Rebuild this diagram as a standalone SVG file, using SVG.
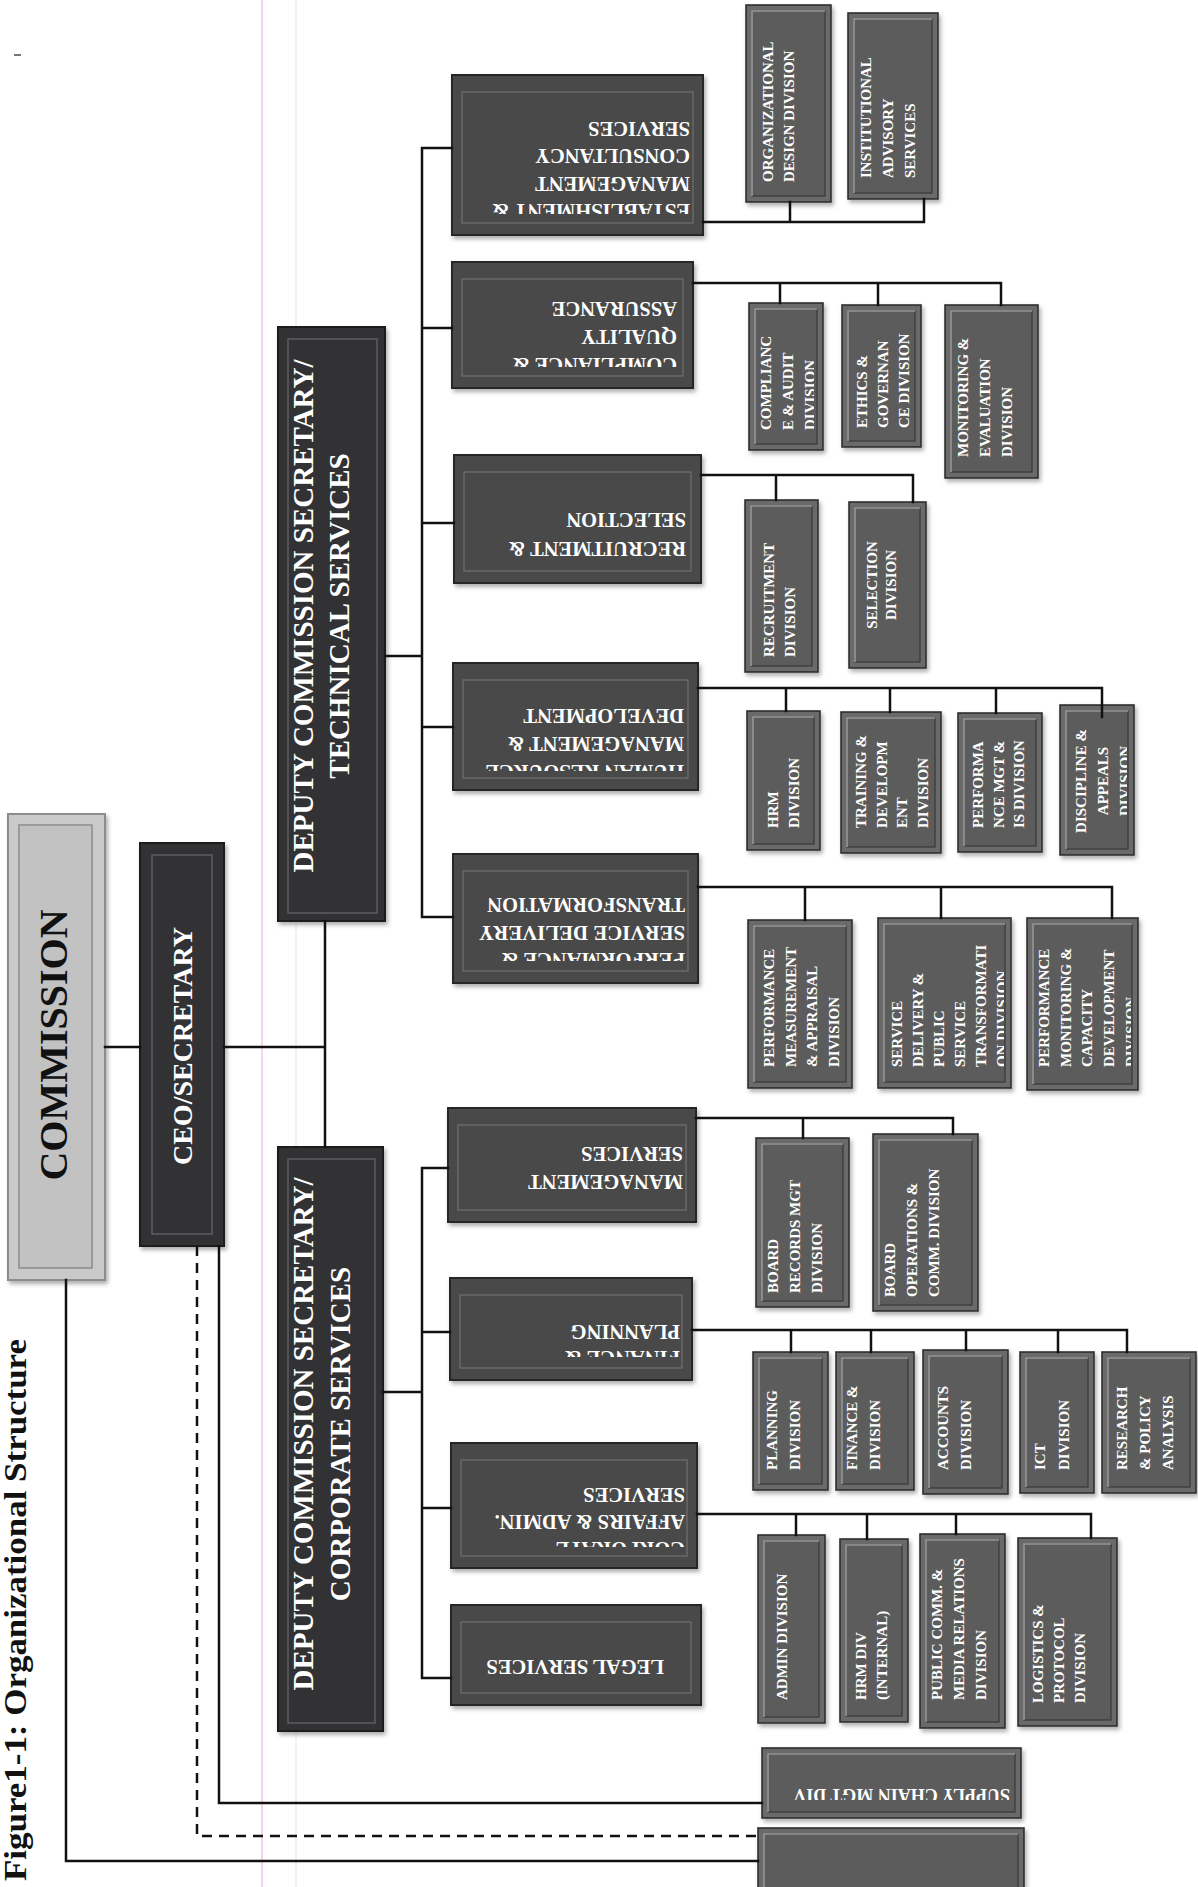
<svg xmlns="http://www.w3.org/2000/svg" width="1198" height="1887" viewBox="0 0 1198 1887">
<style>
.ln{fill:none;stroke:#111;stroke-width:2.5;stroke-linecap:square}
.dash{stroke-dasharray:10 7;stroke-linecap:butt}
.do{fill:#6b6b6b;stroke:#2e2e2e;stroke-width:1.6}
.di{fill:#5c5c5c;stroke:#383838;stroke-width:1.2}
.hl{fill:none;stroke:#9c9c9c;stroke-width:1.6}
.po{fill:#4a4a4a;stroke:#282828;stroke-width:2}
.pi{fill:none;stroke:#707070;stroke-width:1.2}
.ko{fill:#323236;stroke:#1a1a1a;stroke-width:2}
.ki{fill:none;stroke:#5e5e62;stroke-width:1.5}
.co{fill:#c9c9c9;stroke:#8c8c8c;stroke-width:2}
.ci{fill:#c2c2c2;stroke:#8a8a8a;stroke-width:1.5}
.t{font-family:"Liberation Serif","Times New Roman",serif;font-weight:bold;fill:#fff}
.dt{font-size:15px}
.pt{font-size:20.5px}
.kt{font-size:29px}
.sd{filter:url(#shadow)}
</style>
<defs>
<filter id="shadow" x="-10%" y="-10%" width="130%" height="130%">
<feDropShadow dx="2" dy="3" stdDeviation="2" flood-color="#8a8a8a" flood-opacity="0.7"/>
</filter>
<clipPath id="cP1"><rect x="462" y="90" width="231" height="124"/></clipPath>
<clipPath id="cP2"><rect x="462" y="278" width="221" height="89"/></clipPath>
<clipPath id="cP4"><rect x="463" y="679" width="225" height="92"/></clipPath>
<clipPath id="cP5"><rect x="463" y="870" width="225" height="91"/></clipPath>
<clipPath id="cP7"><rect x="460" y="1294" width="222" height="63"/></clipPath>
<clipPath id="cP8"><rect x="461" y="1459" width="226" height="88"/></clipPath>
<clipPath id="cD3"><rect x="755" y="309" width="59" height="135"/></clipPath>
<clipPath id="cD11"><rect x="1066" y="711" width="61" height="138"/></clipPath>
<clipPath id="cD13"><rect x="884" y="924" width="120" height="158"/></clipPath>
<clipPath id="cD14"><rect x="1033" y="924" width="98" height="160"/></clipPath>
<clipPath id="cS"><rect x="768" y="1754" width="247" height="46"/></clipPath>
</defs>
<rect x="0" y="0" width="1198" height="1887" fill="#ffffff"/>
<line x1="262" y1="0" x2="262" y2="1887" stroke="#e9c8e6" stroke-width="1.5"/>
<line x1="296" y1="0" x2="296" y2="1887" stroke="#d3e9ef" stroke-width="1"/>
<line x1="14" y1="55" x2="21" y2="55" stroke="#777" stroke-width="2"/>
<text transform="translate(26,1881) rotate(-90)" font-family="Liberation Serif,serif" font-weight="bold" font-size="32" fill="#111" textLength="542" lengthAdjust="spacingAndGlyphs">Figure1-1: Organizational Structure</text>

<g id="commission">
<rect class="co sd" x="8" y="814" width="97" height="466"/>
<rect class="ci" x="19" y="825" width="73" height="443"/>
<path class="hl" d="M19 1268 V825 H92" stroke="#eeeeee"/>
<text class="t" transform="translate(67,1045) rotate(-90)" text-anchor="middle" font-size="40" style="fill:#111">COMMISSION</text>
</g>
<g id="ceo">
<rect class="ko sd" x="140" y="843" width="84" height="403"/>
<rect class="ki" x="152" y="855" width="60" height="379"/>
<text class="t" transform="translate(192,1046) rotate(-90)" text-anchor="middle" font-size="28">CEO/SECRETARY</text>
</g>
<g id="dcs-technical">
<rect class="ko sd" x="278" y="327" width="107" height="594"/>
<rect class="ki" x="288" y="339" width="89" height="574"/>
<text class="t kt" transform="translate(313,616) rotate(-90)" text-anchor="middle"><tspan x="0" y="0">DEPUTY COMMISSION SECRETARY/</tspan><tspan x="0" dy="36">TECHNICAL SERVICES</tspan></text>
</g>
<g id="dcs-corporate">
<rect class="ko sd" x="278" y="1147" width="105" height="584"/>
<rect class="ki" x="288" y="1159" width="87" height="564"/>
<text class="t kt" transform="translate(313,1434) rotate(-90)" text-anchor="middle"><tspan x="0" y="0">DEPUTY COMMISSION SECRETARY/</tspan><tspan x="0" dy="37">CORPORATE SERVICES</tspan></text>
</g>

<g id="establishment">
<rect class="po sd" x="452" y="75" width="251" height="160"/>
<rect class="pi" x="462" y="92" width="231" height="131"/>
<g clip-path="url(#cP1)"><text class="t pt" transform="translate(690,204) rotate(180)"><tspan x="0" y="0">ESTABLISHMENT &amp;</tspan><tspan x="0" dy="27.5">MANAGEMENT</tspan><tspan x="0" dy="27.5">CONSULTANCY</tspan><tspan x="0" dy="27.5">SERVICES</tspan></text></g>
</g>
<g id="quality-assurance">
<rect class="po sd" x="452" y="262" width="241" height="126"/>
<rect class="pi" x="462" y="279" width="221" height="97"/>
<g clip-path="url(#cP2)"><text class="t pt" transform="translate(677,358) rotate(180)"><tspan x="0" y="0">COMPLIANCE &amp;</tspan><tspan x="0" dy="28">QUALITY</tspan><tspan x="0" dy="28">ASSURANCE</tspan></text></g>
</g>
<g id="recruitment-selection">
<rect class="po sd" x="454" y="455" width="247" height="128"/>
<rect class="pi" x="464" y="472" width="227" height="99"/>
<text class="t pt" transform="translate(686,542) rotate(180)"><tspan x="0" y="0">RECRUITMENT &amp;</tspan><tspan x="0" dy="29">SELECTION</tspan></text>
</g>
<g id="hr-management">
<rect class="po sd" x="453" y="663" width="245" height="127"/>
<rect class="pi" x="463" y="680" width="225" height="98"/>
<g clip-path="url(#cP4)"><text class="t pt" transform="translate(684,765) rotate(180)"><tspan x="0" y="0">HUMAN RESOURCE</tspan><tspan x="0" dy="28">MANAGEMENT &amp;</tspan><tspan x="0" dy="28">DEVELOPMENT</tspan></text></g>
</g>
<g id="performance-service-delivery">
<rect class="po sd" x="453" y="854" width="245" height="129"/>
<rect class="pi" x="463" y="871" width="225" height="100"/>
<g clip-path="url(#cP5)"><text class="t pt" transform="translate(685,953) rotate(180)"><tspan x="0" y="0">PERFORMANCE &amp;</tspan><tspan x="0" dy="27.5" textLength="206" lengthAdjust="spacingAndGlyphs">SERVICE DELIVERY</tspan><tspan x="0" dy="27.5">TRANSFORMATION</tspan></text></g>
</g>
<g id="management-services">
<rect class="po sd" x="448" y="1108" width="248" height="114"/>
<rect class="pi" x="458" y="1125" width="228" height="85"/>
<text class="t pt" transform="translate(683,1175) rotate(180)"><tspan x="0" y="0">MANAGEMENT</tspan><tspan x="0" dy="28">SERVICES</tspan></text>
</g>
<g id="finance-planning">
<rect class="po sd" x="450" y="1278" width="242" height="102"/>
<rect class="pi" x="460" y="1295" width="222" height="73"/>
<g clip-path="url(#cP7)"><text class="t pt" transform="translate(680,1351) rotate(180)"><tspan x="0" y="0">FINANCE &amp;</tspan><tspan x="0" dy="26">PLANNING</tspan></text></g>
</g>
<g id="corporate-affairs">
<rect class="po sd" x="451" y="1443" width="246" height="125"/>
<rect class="pi" x="461" y="1460" width="226" height="96"/>
<g clip-path="url(#cP8)"><text class="t pt" transform="translate(685,1542) rotate(180)"><tspan x="0" y="0">CORPORATE</tspan><tspan x="0" dy="27">AFFAIRS &amp; ADMIN.</tspan><tspan x="0" dy="27">SERVICES</tspan></text></g>
</g>
<g id="legal-services">
<rect class="po sd" x="451" y="1605" width="250" height="100"/>
<rect class="pi" x="461" y="1622" width="230" height="71"/>
<text class="t pt" transform="translate(664,1660) rotate(180)">LEGAL SERVICES</text>
</g>

<g id="org-design-div">
<rect class="do sd" x="746" y="5" width="85" height="197"/><rect class="di" x="752" y="11" width="73" height="185"/><path class="hl" d="M752 196 V11 H825"/>
<text class="t dt" transform="translate(773,182) rotate(-90)"><tspan x="0" y="0">ORGANIZATIONAL</tspan><tspan x="0" dy="21">DESIGN DIVISION</tspan></text>
</g>
<g id="institutional-advisory">
<rect class="do sd" x="848" y="13" width="90" height="186"/><rect class="di" x="854" y="19" width="78" height="174"/><path class="hl" d="M854 193 V19 H932"/>
<text class="t dt" transform="translate(871,178) rotate(-90)"><tspan x="0" y="0">INSTITUTIONAL</tspan><tspan x="0" dy="22">ADVISORY</tspan><tspan x="0" dy="22">SERVICES</tspan></text>
</g>
<g id="compliance-audit">
<rect class="do sd" x="749" y="303" width="74" height="147"/><rect class="di" x="755" y="309" width="62" height="135"/><path class="hl" d="M755 444 V309 H817"/>
<g clip-path="url(#cD3)"><text class="t dt" transform="translate(771,430) rotate(-90)"><tspan x="0" y="0">COMPLIANC</tspan><tspan x="0" dy="22">E &amp; AUDIT</tspan><tspan x="0" dy="22">DIVISION</tspan></text></g>
</g>
<g id="ethics-governance">
<rect class="do sd" x="842" y="305" width="79" height="142"/><rect class="di" x="848" y="311" width="67" height="130"/><path class="hl" d="M848 441 V311 H915"/>
<text class="t dt" transform="translate(867,428) rotate(-90)"><tspan x="0" y="0">ETHICS &amp;</tspan><tspan x="0" dy="21">GOVERNAN</tspan><tspan x="0" dy="21">CE DIVISION</tspan></text>
</g>
<g id="monitoring-evaluation">
<rect class="do sd" x="945" y="305" width="93" height="173"/><rect class="di" x="951" y="311" width="81" height="161"/><path class="hl" d="M951 472 V311 H1032"/>
<text class="t dt" transform="translate(968,457) rotate(-90)"><tspan x="0" y="0">MONITORING &amp;</tspan><tspan x="0" dy="22">EVALUATION</tspan><tspan x="0" dy="22">DIVISION</tspan></text>
</g>
<g id="recruitment-div">
<rect class="do sd" x="745" y="500" width="73" height="172"/><rect class="di" x="751" y="506" width="61" height="160"/><path class="hl" d="M751 666 V506 H812"/>
<text class="t dt" transform="translate(774,657) rotate(-90)"><tspan x="0" y="0">RECRUITMENT</tspan><tspan x="0" dy="21">DIVISION</tspan></text>
</g>
<g id="selection-div">
<rect class="do sd" x="849" y="502" width="77" height="166"/><rect class="di" x="855" y="508" width="65" height="154"/><path class="hl" d="M855 662 V508 H920"/>
<text class="t dt" transform="translate(877,585) rotate(-90)" text-anchor="middle"><tspan x="0" y="0">SELECTION</tspan><tspan x="0" dy="19">DIVISION</tspan></text>
</g>
<g id="hrm-div">
<rect class="do sd" x="747" y="711" width="73" height="139"/><rect class="di" x="753" y="717" width="61" height="127"/><path class="hl" d="M753 844 V717 H814"/>
<text class="t dt" transform="translate(778,828) rotate(-90)"><tspan x="0" y="0">HRM</tspan><tspan x="0" dy="21">DIVISION</tspan></text>
</g>
<g id="training-development">
<rect class="do sd" x="841" y="712" width="100" height="141"/><rect class="di" x="847" y="718" width="88" height="129"/><path class="hl" d="M847 847 V718 H935"/>
<text class="t dt" transform="translate(866,828) rotate(-90)"><tspan x="0" y="0">TRAINING &amp;</tspan><tspan x="0" dy="20.5">DEVELOPM</tspan><tspan x="0" dy="20.5">ENT</tspan><tspan x="0" dy="20.5">DIVISION</tspan></text>
</g>
<g id="performance-mgt-is">
<rect class="do sd" x="958" y="713" width="84" height="139"/><rect class="di" x="964" y="719" width="72" height="127"/><path class="hl" d="M964 846 V719 H1036"/>
<text class="t dt" transform="translate(983,828) rotate(-90)"><tspan x="0" y="0">PERFORMA</tspan><tspan x="0" dy="20.5">NCE MGT &amp;</tspan><tspan x="0" dy="20.5">IS DIVISION</tspan></text>
</g>
<g id="discipline-appeals">
<rect class="do sd" x="1060" y="705" width="74" height="150"/><rect class="di" x="1066" y="711" width="62" height="138"/><path class="hl" d="M1066 849 V711 H1128"/>
<g clip-path="url(#cD11)"><text class="t dt" transform="translate(1086,781) rotate(-90)" text-anchor="middle"><tspan x="0" y="0">DISCIPLINE &amp;</tspan><tspan x="0" dy="22">APPEALS</tspan><tspan x="0" dy="22">DIVISION</tspan></text></g>
</g>
<g id="performance-measurement">
<rect class="do sd" x="748" y="920" width="104" height="168"/><rect class="di" x="754" y="926" width="92" height="156"/><path class="hl" d="M754 1082 V926 H846"/>
<text class="t dt" transform="translate(774,1067) rotate(-90)"><tspan x="0" y="0">PERFORMANCE</tspan><tspan x="0" dy="21.5">MEASUREMENT</tspan><tspan x="0" dy="21.5">&amp; APPRAISAL</tspan><tspan x="0" dy="21.5">DIVISION</tspan></text>
</g>
<g id="service-delivery-transformation">
<rect class="do sd" x="878" y="918" width="133" height="170"/><rect class="di" x="884" y="924" width="121" height="158"/><path class="hl" d="M884 1082 V924 H1005"/>
<g clip-path="url(#cD13)"><text class="t dt" transform="translate(902,1067) rotate(-90)"><tspan x="0" y="0">SERVICE</tspan><tspan x="0" dy="21">DELIVERY &amp;</tspan><tspan x="0" dy="21">PUBLIC</tspan><tspan x="0" dy="21">SERVICE</tspan><tspan x="0" dy="21">TRANSFORMATI</tspan><tspan x="0" dy="21">ON DIVISION</tspan></text></g>
</g>
<g id="performance-monitoring-capacity">
<rect class="do sd" x="1027" y="918" width="111" height="172"/><rect class="di" x="1033" y="924" width="99" height="160"/><path class="hl" d="M1033 1084 V924 H1132"/>
<g clip-path="url(#cD14)"><text class="t dt" transform="translate(1049,1067) rotate(-90)"><tspan x="0" y="0">PERFORMANCE</tspan><tspan x="0" dy="21.7">MONITORING &amp;</tspan><tspan x="0" dy="21.7">CAPACITY</tspan><tspan x="0" dy="21.7">DEVELOPMENT</tspan><tspan x="0" dy="21.7">DIVISION</tspan></text></g>
</g>
<g id="board-records">
<rect class="do sd" x="756" y="1138" width="93" height="169"/><rect class="di" x="762" y="1144" width="81" height="157"/><path class="hl" d="M762 1301 V1144 H843"/>
<text class="t dt" transform="translate(778,1293) rotate(-90)"><tspan x="0" y="0">BOARD</tspan><tspan x="0" dy="22">RECORDS MGT</tspan><tspan x="0" dy="22">DIVISION</tspan></text>
</g>
<g id="board-operations">
<rect class="do sd" x="873" y="1134" width="105" height="177"/><rect class="di" x="879" y="1140" width="93" height="165"/><path class="hl" d="M879 1305 V1140 H972"/>
<text class="t dt" transform="translate(895,1297) rotate(-90)"><tspan x="0" y="0">BOARD</tspan><tspan x="0" dy="22">OPERATIONS &amp;</tspan><tspan x="0" dy="22">COMM. DIVISION</tspan></text>
</g>
<g id="planning-div">
<rect class="do sd" x="753" y="1352" width="75" height="138"/><rect class="di" x="759" y="1358" width="63" height="126"/><path class="hl" d="M759 1484 V1358 H822"/>
<text class="t dt" transform="translate(777,1470) rotate(-90)"><tspan x="0" y="0">PLANNING</tspan><tspan x="0" dy="23">DIVISION</tspan></text>
</g>
<g id="finance-div">
<rect class="do sd" x="836" y="1352" width="78" height="138"/><rect class="di" x="842" y="1358" width="66" height="126"/><path class="hl" d="M842 1484 V1358 H908"/>
<text class="t dt" transform="translate(857,1470) rotate(-90)"><tspan x="0" y="0">FINANCE &amp;</tspan><tspan x="0" dy="23">DIVISION</tspan></text>
</g>
<g id="accounts-div">
<rect class="do sd" x="923" y="1350" width="85" height="144"/><rect class="di" x="929" y="1356" width="73" height="132"/><path class="hl" d="M929 1488 V1356 H1002"/>
<text class="t dt" transform="translate(948,1470) rotate(-90)"><tspan x="0" y="0">ACCOUNTS</tspan><tspan x="0" dy="23">DIVISION</tspan></text>
</g>
<g id="ict-div">
<rect class="do sd" x="1020" y="1352" width="74" height="141"/><rect class="di" x="1026" y="1358" width="62" height="129"/><path class="hl" d="M1026 1487 V1358 H1088"/>
<text class="t dt" transform="translate(1045,1470) rotate(-90)"><tspan x="0" y="0">ICT</tspan><tspan x="0" dy="24">DIVISION</tspan></text>
</g>
<g id="research-policy">
<rect class="do sd" x="1102" y="1352" width="94" height="141"/><rect class="di" x="1108" y="1358" width="82" height="129"/><path class="hl" d="M1108 1487 V1358 H1190"/>
<text class="t dt" transform="translate(1127,1470) rotate(-90)"><tspan x="0" y="0">RESEARCH</tspan><tspan x="0" dy="23">&amp; POLICY</tspan><tspan x="0" dy="23">ANALYSIS</tspan></text>
</g>
<g id="admin-div">
<rect class="do sd" x="758" y="1535" width="67" height="188"/><rect class="di" x="764" y="1541" width="55" height="176"/><path class="hl" d="M764 1717 V1541 H819"/>
<text class="t dt" transform="translate(787,1700) rotate(-90)">ADMIN DIVISION</text>
</g>
<g id="hrm-internal">
<rect class="do sd" x="840" y="1539" width="68" height="183"/><rect class="di" x="846" y="1545" width="56" height="171"/><path class="hl" d="M846 1716 V1545 H902"/>
<text class="t dt" transform="translate(866,1700) rotate(-90)"><tspan x="0" y="0">HRM DIV</tspan><tspan x="0" dy="21">(INTERNAL)</tspan></text>
</g>
<g id="public-comm">
<rect class="do sd" x="920" y="1534" width="85" height="194"/><rect class="di" x="926" y="1540" width="73" height="182"/><path class="hl" d="M926 1722 V1540 H999"/>
<text class="t dt" transform="translate(942,1700) rotate(-90)"><tspan x="0" y="0">PUBLIC COMM. &amp;</tspan><tspan x="0" dy="22">MEDIA RELATIONS</tspan><tspan x="0" dy="22">DIVISION</tspan></text>
</g>
<g id="logistics-protocol">
<rect class="do sd" x="1018" y="1538" width="99" height="188"/><rect class="di" x="1024" y="1544" width="87" height="176"/><path class="hl" d="M1024 1720 V1544 H1111"/>
<text class="t dt" transform="translate(1043,1703) rotate(-90)"><tspan x="0" y="0">LOGISTICS &amp;</tspan><tspan x="0" dy="21">PROTOCOL</tspan><tspan x="0" dy="21">DIVISION</tspan></text>
</g>
<g id="supply-chain">
<rect class="do sd" x="762" y="1748" width="259" height="70"/><rect class="di" x="768" y="1754" width="247" height="58"/><path class="hl" d="M768 1812 V1754 H1015"/>
<g clip-path="url(#cS)"><text class="t" font-size="18" transform="translate(1010,1789) rotate(180)">SUPPLY CHAIN MGT DIV</text></g>
</g>
<g id="unnamed-unit">
<rect class="do sd" x="758" y="1828" width="266" height="70"/><rect class="di" x="764" y="1834" width="254" height="58"/><path class="hl" d="M764 1892 V1834 H1018"/>
</g>

<g id="connectors">
<path class="ln" d="M105 1047 H140 M224 1047 H325 M325 921 V1147"/>
<path class="ln" d="M385 656 H422 M422 148 V917 M422 148 H452 M422 328 H452 M422 523 H454 M422 727 H453 M422 917 H453"/>
<path class="ln" d="M383 1392 H422 M422 1168 V1678 M422 1168 H448 M422 1332 H450 M422 1508 H451 M422 1678 H451"/>
<path class="ln" d="M703 222 H924 M790 222 V202 M924 222 V199"/>
<path class="ln" d="M693 283 H1001 M780 283 V303 M878 283 V305 M1001 283 V305"/>
<path class="ln" d="M701 475 H913 M776 475 V500 M913 475 V502"/>
<path class="ln" d="M698 688 H1102 M786 688 V711 M890 688 V712 M996 688 V713 M1102 688 V717"/>
<path class="ln" d="M698 887 H1112 M805 887 V920 M941 887 V918 M1112 887 V918"/>
<path class="ln" d="M696 1118 H953 M803 1118 V1138 M953 1118 V1134"/>
<path class="ln" d="M692 1330 H1127 M791 1330 V1352 M871 1330 V1352 M966 1330 V1350 M1058 1330 V1352 M1127 1330 V1352"/>
<path class="ln" d="M697 1514 H1091 M796 1514 V1535 M867 1514 V1539 M956 1514 V1534 M1091 1514 V1538"/>
<path class="ln" d="M219 1246 V1803 H762"/>
<path class="ln dash" d="M197 1246 V1836 H758"/>
<path class="ln" d="M66 1280 V1861 H758"/>
</g>
</svg>
